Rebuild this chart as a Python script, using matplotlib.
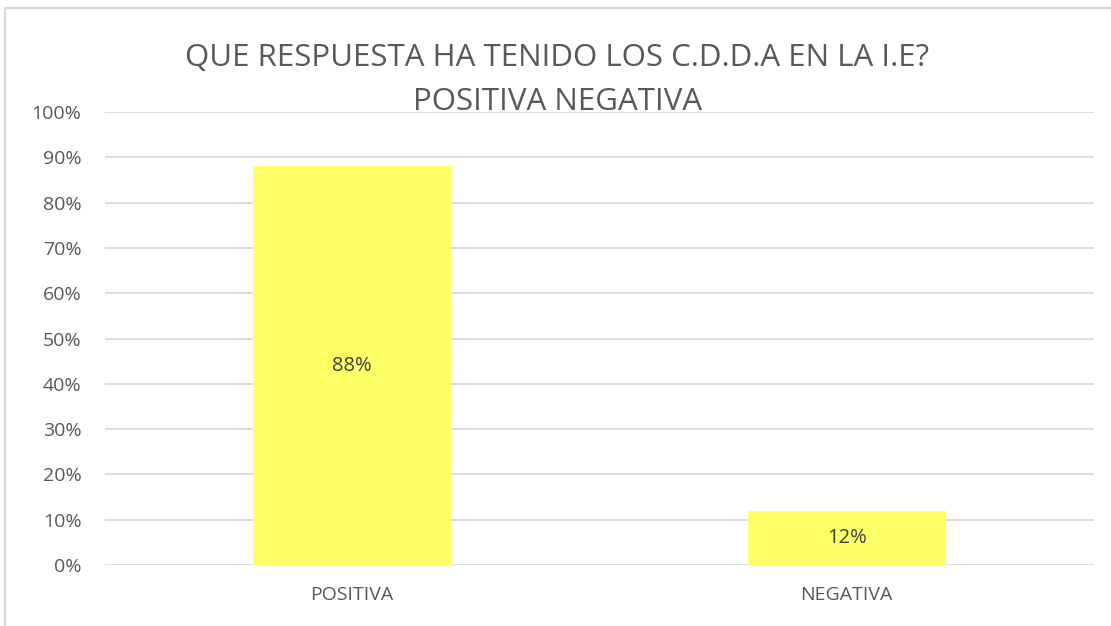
import matplotlib
matplotlib.use('Agg')
import matplotlib.pyplot as plt
from matplotlib.patches import Rectangle
from matplotlib.ticker import FuncFormatter

# ── 데이터 ──
categories = ['POSITIVA', 'NEGATIVA']
values = [0.88, 0.12]
yticks = [i / 10 for i in range(11)]
title_lines = ['QUE RESPUESTA HA TENIDO LOS C.D.D.A EN LA I.E?', 'POSITIVA NEGATIVA']

plt.rcParams['font.family'] = ['Open Sans', 'DejaVu Sans']
text_color = '#595959'
grid_color = '#D9D9D9'
bar_color = '#FFFF66'

fig = plt.figure(figsize=(11.11, 6.26), dpi=100)
ax = fig.add_axes([0.0945, 0.0974, 0.8902, 0.7236])

x = list(range(len(categories)))
bars = ax.bar(x, values, width=0.4, color=bar_color, zorder=3)
for b, v in zip(bars, values):
    ax.text(b.get_x() + b.get_width() / 2, v / 2, f'{v*100:.0f}%',
            ha='center', va='center', fontsize=14.5, color='#404040', zorder=4)

ax.set_xlim(-0.5, len(categories) - 0.5)
ax.set_ylim(0, 1)
ax.set_yticks(yticks)
ax.yaxis.set_major_formatter(FuncFormatter(lambda v, p: f'{v*100:.0f}%'))
ax.set_xticks(x)
ax.set_xticklabels(categories)
ax.tick_params(axis='both', length=0, labelsize=14, colors=text_color)
ax.tick_params(axis='x', pad=15)
ax.tick_params(axis='y', pad=17)
ax.grid(axis='y', color=grid_color, linewidth=1.3, zorder=0)
for s in ax.spines.values():
    s.set_visible(False)

# 제목 (두 줄)
fig.text(0.5015, 0.8946, title_lines[0], ha='center', va='baseline', fontsize=22.5,
         color=text_color)
fig.text(0.5015, 0.8243, title_lines[1], ha='center', va='baseline', fontsize=22.5,
         color=text_color)

# 차트 외곽선
fig.patches.append(Rectangle((0.0045, -0.01), 1.0, 0.997, transform=fig.transFigure,
                             fill=False, edgecolor='#D9D9D9', linewidth=1.5))

fig.savefig('out.png', dpi=100, facecolor='white')
